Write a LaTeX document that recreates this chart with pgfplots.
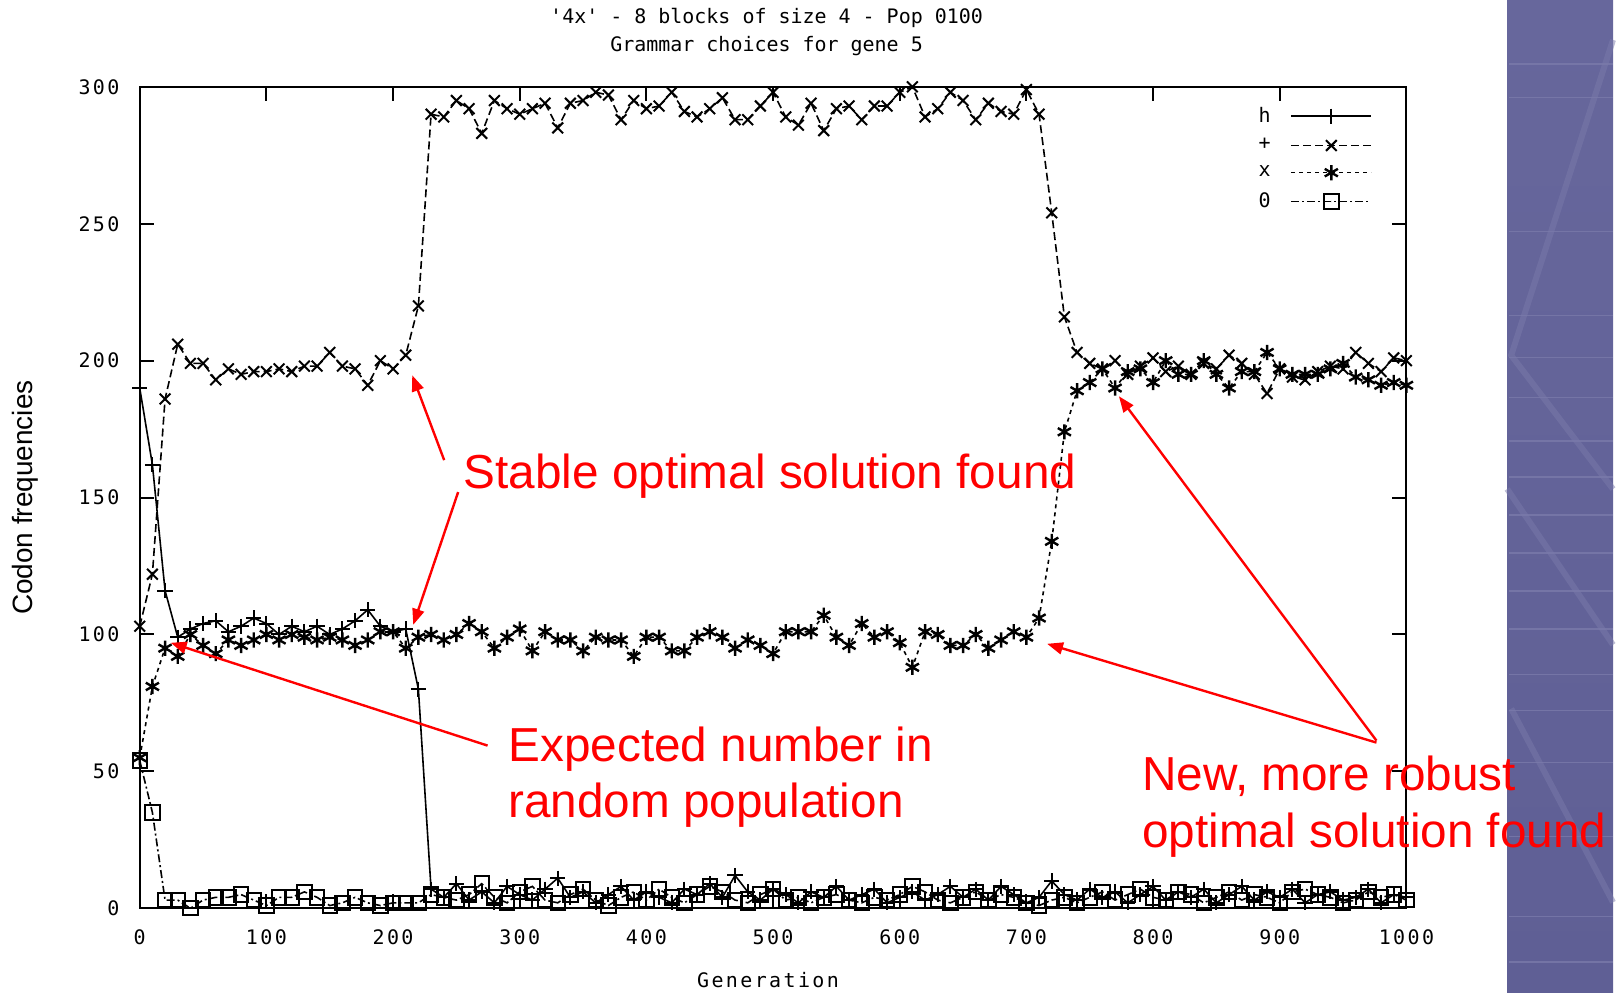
\documentclass[border=0pt]{standalone}
\usepackage{fontspec}
\setmainfont{Liberation Sans}
\newfontfamily\gpfont{DejaVu Sans Mono}
\newfontfamily\gpwide[LetterSpace=12]{DejaVu Sans Mono}
\usepackage{pgfplots}
\pgfplotsset{compat=1.18}
\usepackage{pgfplotstable}
\usetikzlibrary{arrows.meta}

\definecolor{slidetop}{HTML}{67679C}
\definecolor{slidemid}{HTML}{4A4A6E}
\definecolor{slidebot}{HTML}{5F5F95}
\definecolor{slideline}{HTML}{7A7AAA}

% codon counts per generation, one column per grammar choice
\pgfplotstableread{
gen  h    plus  x    zero
0    190  103   55   54
10   162  122   81   35
20   116  186   95   3
30   99   206   92   3
40   102  199   100  0
50   104  199   96   3
60   105  193   93   4
70   101  197   98   4
80   103  195   96   5
90   106  196   98   3
100  104  196   100  1
110  100  197   98   4
120  103  196   100  4
130  101  198   99   6
140  103  198   98   4
150  100  203   99   1
160  102  198   98   2
170  105  197   96   4
180  109  191   98   2
190  103  200   101  1
200  101  197   101  2
210  102  202   95   2
220  80   220   99   2
230  7    290   100  5
240  4    289   98   4
250  9    295   100  3
260  3    292   104  5
270  6    283   101  9
280  2    295   95   4
290  8    292   99   2
300  5    290   102  6
310  3    292   94   8
320  7    294   101  3
330  11   285   98   2
340  4    294   98   5
350  6    295   94   7
360  2    298   99   3
370  5    297   98   1
380  8    288   98   4
390  3    295   92   6
400  6    292   99   3
410  4    293   99   7
420  2    298   94   4
430  7    291   94   2
440  5    289   99   5
450  9    292   101  8
460  4    296   99   6
470  12   288   95   3
480  6    288   98   2
490  3    293   96   5
500  7    298   93   7
510  5    289   101  3
520  2    286   101  4
530  6    294   101  2
540  4    284   107  4
550  8    292   99   5
560  3    293   96   3
570  5    288   104  2
580  7    293   99   4
590  2    293   101  3
600  4    298   97   5
610  6    300   88   8
620  3    289   101  6
630  5    292   100  3
640  8    298   96   2
650  4    295   96   4
660  7    288   100  6
670  3    294   95   3
680  8    291   98   5
690  5    290   101  4
700  2    299   99   2
710  4    290   106  1
720  10   254   134  3
730  5    216   174  4
740  3    203   189  2
750  7    199   192  4
760  4    197   197  6
770  6    200   190  3
780  2    195   196  5
790  5    198   197  7
800  8    201   192  4
810  3    196   200  3
820  6    198   195  6
830  4    195   195  5
840  7    199   200  2
850  2    197   195  4
860  5    202   190  6
870  8    199   196  3
880  3    195   196  5
890  6    188   203  4
900  4    197   197  2
910  7    194   195  6
920  2    193   195  7
930  5    196   195  5
940  6    198   197  4
950  3    197   199  2
960  4    203   194  3
970  7    199   193  6
980  2    196   191  4
990  5    201   192  5
1000 4    200   191  3
}\codons

\begin{document}
\begin{tikzpicture}
% page background and the slide strip on the right
\fill[white] (0,0) rectangle (808pt,497pt);
\shade[top color=slidetop, middle color=slidemid, bottom color=slidebot] (755pt,0) rectangle (808pt,497pt);
\begin{scope}[slideline, line width=0.7pt, opacity=0.8]
\foreach \yy in {15,38,78,115,141,159,182,201,220,239,258,276,298,318,339,381,448,465}
  \draw (756pt,\yy pt) -- (808pt,\yy pt);
\end{scope}
\begin{scope}[slideline, line width=3pt, opacity=0.5]
\draw (808pt,477pt) -- (757pt,319pt) -- (808pt,252pt);
\draw (755pt,252pt) -- (808pt,174pt);
\draw (757pt,142pt) -- (808pt,45pt);
\end{scope}

\begin{axis}[
  at={(70pt,42pt)}, anchor=south west,
  scale only axis, width=634.5pt, height=411.5pt,
  xmin=0, xmax=1000, ymin=0, ymax=300,
  xtick={0,100,...,1000}, ytick={0,50,...,300},
  tick align=inside, major tick length=7pt,
  axis line style={line width=1pt, black},
  every tick/.style={black, line width=1pt},
  /pgf/number format/assume math mode=true,
  /pgf/number format/1000 sep={},
  ticklabel style={font=\gpwide\fontsize{10}{12}\selectfont},
  xticklabel style={anchor=center, yshift=-14.5pt},
  yticklabel style={anchor=east, inner sep=0pt, xshift=-10pt},
  xlabel={Generation},
  xlabel style={font=\gpwide\fontsize{10}{12}\selectfont, at={(axis description cs:0.496,-0.0875)}, anchor=center},
  ylabel={Codon frequencies},
  ylabel style={font=\fontsize{14}{16}\selectfont, at={(axis description cs:-0.09,0.5)}, anchor=center},
  legend style={draw=none, fill=none, font=\gpfont\fontsize{10}{12}\selectfont,
    at={(1,1)}, anchor=north east, xshift=-14pt, yshift=-6pt,
    legend plot pos=right, legend cell align=right,
    row sep=2.5pt, column sep=8pt},
  legend image code/.code={\draw[mark repeat=2,mark phase=2,#1] plot coordinates {(0pt,0pt) (20pt,0pt) (40pt,0pt)};},
]
\addplot[black, line width=0.8pt, mark=+, mark size=3.8pt, mark options={solid, line width=1pt}]
  table[x=gen, y=h] {\codons};
\addplot[black, line width=0.8pt, dash pattern=on 4pt off 2pt, mark=x, mark size=3.8pt, mark options={solid, line width=1pt}]
  table[x=gen, y=plus] {\codons};
\addplot[black, line width=0.8pt, dash pattern=on 2pt off 2pt, mark=asterisk, mark size=3.8pt, mark options={solid, line width=1.2pt}]
  table[x=gen, y=x] {\codons};
\addplot[black, line width=0.8pt, dash pattern=on 4pt off 1.5pt on 1pt off 1.5pt, mark=square, mark size=3.6pt, mark options={solid, line width=1pt}]
  table[x=gen, y=zero] {\codons};
\legend{h, +, x, 0}
\end{axis}

% gnuplot title
\node[font=\gpfont\fontsize{10}{12}\selectfont] at (384pt,488.25pt) {'4x' - 8 blocks of size 4 - Pop 0100};
\node[font=\gpfont\fontsize{10}{12}\selectfont] at (384pt,474pt) {Grammar choices for gene 5};

% red annotations
\begin{scope}[red, font=\fontsize{23.9}{29}\selectfont]
\node[anchor=base west, inner sep=0pt] at (232pt,252.5pt) {Stable optimal solution found};
\node[anchor=base west, inner sep=0pt] at (254.5pt,115.5pt) {Expected number in};
\node[anchor=base west, inner sep=0pt] at (254.5pt,87.5pt) {random population};
\node[anchor=base west, inner sep=0pt] at (572pt,101pt) {New, more robust};
\node[anchor=base west, inner sep=0pt] at (572pt,72.5pt) {optimal solution found};
\end{scope}
\begin{scope}[red, line width=1.2pt, -{Triangle[length=8pt,width=6pt]}]
\draw (222.5pt,266.5pt) -- (206.5pt,309pt);
\draw (229.5pt,250.5pt) -- (207pt,184pt);
\draw (244.25pt,123.5pt) -- (85.5pt,175pt);
\draw (689.5pt,126pt) -- (560.5pt,298.5pt);
\draw (689.5pt,125pt) -- (524.5pt,174.5pt);
\end{scope}
\end{tikzpicture}
\end{document}
